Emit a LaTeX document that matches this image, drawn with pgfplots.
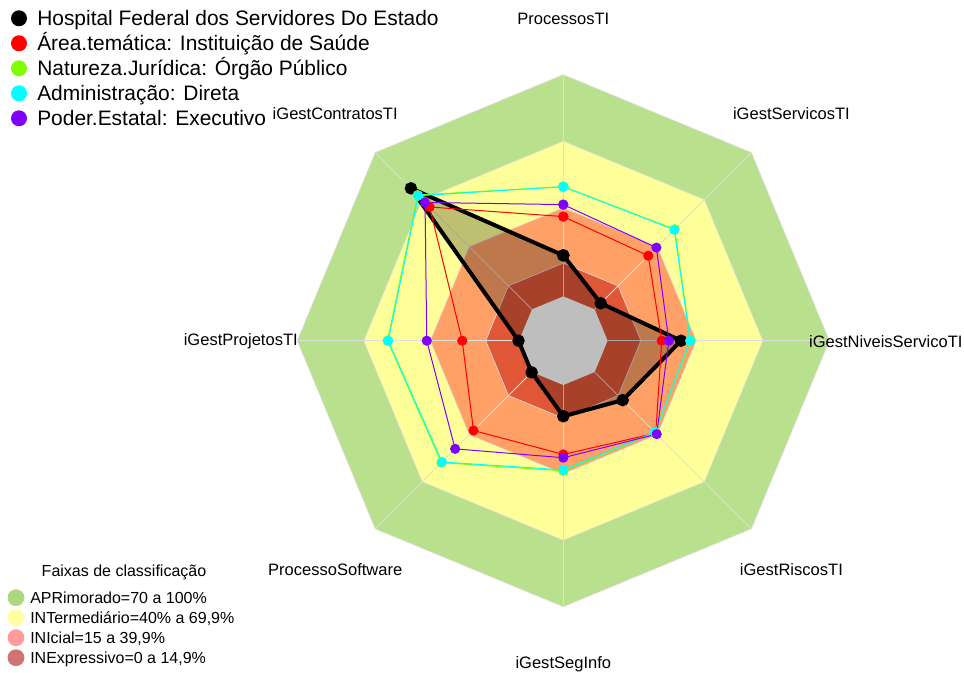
\documentclass[border=0pt]{standalone}
\usepackage{fontspec}
\setmainfont{Liberation Sans}
\usepackage{pgfplots}
\usepackage{pgfplotstable}
\pgfplotsset{compat=1.18}

% series colours
\definecolor{sArea}{RGB}{255,0,0}
\definecolor{sNat}{RGB}{128,255,0}
\definecolor{sAdm}{RGB}{0,255,255}
\definecolor{sPoder}{RGB}{128,0,255}
% band colours as they appear in the plot
\definecolor{bApr}{RGB}{185,224,140}
\definecolor{bInt}{RGB}{255,255,153}
\definecolor{bIni}{RGB}{255,160,102}
\definecolor{bInx}{RGB}{224,87,56}
\definecolor{bCore}{RGB}{190,190,190}
\definecolor{gridc}{RGB}{222,222,222}
% band colours in the legend
\definecolor{lApr}{RGB}{172,216,128}
\definecolor{lInt}{RGB}{255,255,160}
\definecolor{lIni}{RGB}{255,155,155}
\definecolor{lInx}{RGB}{208,115,115}

% scores in %, angle of each axis (last row closes the polygon)
\pgfplotstableread{
ang hosp area nat adm poder
90  18.5 36.0 49.5 49.5 41.4
135 77.2 65.3 72.9 72.5 68.2
180 0.2  25.6 59.3 59.0 41.6
225 0.2  37.3 57.8 57.4 49.0
270 14.1 31.3 38.7 38.3 32.8
315 17.9 39.0 38.6 38.4 39.6
360 33.1 24.4 37.4 37.2 27.6
405 3.9  34.2 51.1 50.8 39.4
450 18.5 36.0 49.5 49.5 41.4
}\scores

% octagon corners: angle and band limit radii (score + 20)
\pgfplotstableread{
ang apr int ini inx core
0   120 90 60 35 20
45  120 90 60 35 20
90  120 90 60 35 20
135 120 90 60 35 20
180 120 90 60 35 20
225 120 90 60 35 20
270 120 90 60 35 20
315 120 90 60 35 20
360 120 90 60 35 20
}\octagon

\newcommand{\labfont}{\fontsize{12.4}{14}\selectfont}
\newcommand{\legfont}{\fontsize{15.7}{18}\selectfont}
\newcommand{\bandfont}{\fontsize{12}{14}\selectfont}

\pgfplotsset{
  band/.style={draw=gridc, line width=0.5pt},
  series/.style={line width=0.75pt, mark=*, mark size=3.4pt,
    color=#1, mark options={solid, fill=#1, draw=#1}},
}

\begin{document}
\begin{tikzpicture}[x=0.75pt, y=0.75pt]
\useasboundingbox (0,0) rectangle (964,-673);

\begin{axis}[
  at={(422.475pt,-255.525pt)}, anchor=center,
  x=1.6625pt, y=1.6625pt,
  xmin=-125, xmax=125, ymin=-125, ymax=125,
  hide axis, clip=false,
]
% classification bands (centre hole = 0 %)
\addplot[band, fill=bApr] table[x expr={\thisrow{apr}*cos(\thisrow{ang})}, y expr={\thisrow{apr}*sin(\thisrow{ang})}] {\octagon};
\addplot[band, fill=bInt] table[x expr={\thisrow{int}*cos(\thisrow{ang})}, y expr={\thisrow{int}*sin(\thisrow{ang})}] {\octagon};
\addplot[band, fill=bIni] table[x expr={\thisrow{ini}*cos(\thisrow{ang})}, y expr={\thisrow{ini}*sin(\thisrow{ang})}] {\octagon};
\addplot[band, fill=bInx] table[x expr={\thisrow{inx}*cos(\thisrow{ang})}, y expr={\thisrow{inx}*sin(\thisrow{ang})}] {\octagon};

\pgfplotsinvokeforeach{0,45,90,135,180,225,270,315}{
  \draw[gridc, line width=0.6pt] (axis cs:{20*cos(#1)},{20*sin(#1)}) -- (axis cs:{120*cos(#1)},{120*sin(#1)});
}

% hospital: filled polygon
\addplot[draw=none, fill=black, fill opacity=0.25] table[x expr={(\thisrow{hosp}+20)*cos(\thisrow{ang})}, y expr={(\thisrow{hosp}+20)*sin(\thisrow{ang})}] {\scores};
\addplot[draw=none, fill=bCore] table[x expr={\thisrow{core}*cos(\thisrow{ang})}, y expr={\thisrow{core}*sin(\thisrow{ang})}] {\octagon};
\addplot[line width=3pt, black, mark=*, mark size=3.1pt, mark options={solid}] table[x expr={(\thisrow{hosp}+20)*cos(\thisrow{ang})}, y expr={(\thisrow{hosp}+20)*sin(\thisrow{ang})}] {\scores};

\addplot[series=sArea] table[x expr={(\thisrow{area}+20)*cos(\thisrow{ang})}, y expr={(\thisrow{area}+20)*sin(\thisrow{ang})}] {\scores};
\addplot[series=sNat] table[x expr={(\thisrow{nat}+20)*cos(\thisrow{ang})}, y expr={(\thisrow{nat}+20)*sin(\thisrow{ang})}] {\scores};
\addplot[series=sAdm] table[x expr={(\thisrow{adm}+20)*cos(\thisrow{ang})}, y expr={(\thisrow{adm}+20)*sin(\thisrow{ang})}] {\scores};
\addplot[series=sPoder] table[x expr={(\thisrow{poder}+20)*cos(\thisrow{ang})}, y expr={(\thisrow{poder}+20)*sin(\thisrow{ang})}] {\scores};

% axis labels
\node[font=\labfont] at (axis cs:0,145) {ProcessosTI};
\node[font=\labfont] at (axis cs:102.9,102.6) {iGestServicosTI};
\node[font=\labfont] at (axis cs:145.5,-0.3) {iGestNiveisServicoTI};
\node[font=\labfont] at (axis cs:102.9,-103.2) {iGestRiscosTI};
\node[font=\labfont] at (axis cs:0,-145.8) {iGestSegInfo};
\node[font=\labfont] at (axis cs:-102.9,-103.2) {ProcessoSoftware};
\node[font=\labfont] at (axis cs:-145.5,-0.3) {iGestProjetosTI};
\node[font=\labfont] at (axis cs:-102.9,102.6) {iGestContratosTI};
\end{axis}

% series legend (baseline = row centre + half cap height)
\begin{scope}[every node/.style={anchor=base west, inner sep=0pt, font=\legfont}]
\fill[black]  (19,-18.3)  circle[radius=6pt]; \node at (37,-25.8)  {Hospital Federal dos Servidores Do Estado};
\fill[sArea]  (19,-43.3)  circle[radius=6pt]; \node at (37,-50.8)  {Área.temática: Instituição de Saúde};
\fill[sNat]   (19,-68.3)  circle[radius=6pt]; \node at (37,-75.8)  {Natureza.Jurídica: Órgão Público};
\fill[sAdm]   (19,-93.3)  circle[radius=6pt]; \node at (37,-100.8) {Administração: Direta};
\fill[sPoder] (19,-118.3) circle[radius=6pt]; \node at (37,-125.8) {Poder.Estatal: Executivo};
\end{scope}

% band legend
\node[font=\bandfont, inner sep=0pt, anchor=base] at (124,-576.7) {Faixas de classificação};
\begin{scope}[every node/.style={anchor=base west, inner sep=0pt, font=\bandfont}]
\fill[lApr] (16,-597.7) circle[radius=6.3pt]; \node at (30,-603.4) {APRimorado=70 a 100\%};
\fill[lInt] (16,-617.7) circle[radius=6.3pt]; \node at (30,-623.4) {INTermediário=40\% a 69,9\%};
\fill[lIni] (16,-637.7) circle[radius=6.3pt]; \node at (30,-643.4) {INIcial=15 a 39,9\%};
\fill[lInx] (16,-657.7) circle[radius=6.3pt]; \node at (30,-663.4) {INExpressivo=0 a 14,9\%};
\end{scope}
\end{tikzpicture}
\end{document}
